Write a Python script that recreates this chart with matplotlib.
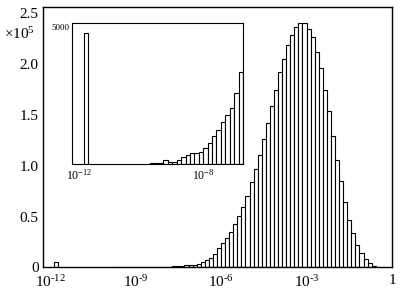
import numpy as np
import matplotlib.pyplot as plt

plt.rcParams['font.family'] = ['Liberation Serif', 'DejaVu Serif']
plt.rcParams['mathtext.fontset'] = 'custom'
plt.rcParams['mathtext.rm'] = 'Liberation Serif'
plt.rcParams['mathtext.it'] = 'Liberation Serif:italic'

# log-spaced bins, 7 per decade: bin k covers [10^(k/7), 10^((k+1)/7)]
spike_bin = -83
spike_count = 4790

first_bin = -68
counts = [
    40, 45, 50,                                   # -68 .. -66
    135, 85, 75, 160, 270, 330, 390, 390, 450,    # -65 .. -57
    575, 760, 1010, 1245, 1525, 1795, 2060, 2610, 3380,   # -56 .. -48
    4800, 6700, 9500, 13400,                      # -47 .. -44
    18700, 23600, 29200, 34500, 42700, 50900, 59800,      # -43 .. -37
    70600, 83700, 96600, 110700, 126000, 142500,          # -36 .. -31
    159000, 175000, 192000, 205000, 219000, 229000, 237000,   # -30 .. -24
    241000, 241000,                               # -23 .. -22 (peak)
    235000, 227000, 212000, 196000, 175000, 154000,       # -21 .. -16
    129000, 106000, 85000, 64000, 47000, 33500, 22000,    # -15 .. -9
    13800, 7900, 3900, 1600, 700,                 # -8 .. -4
]

k = np.concatenate([[spike_bin], first_bin + np.arange(len(counts))])
vals = np.concatenate([[spike_count], counts])
left = 10.0 ** (k / 7)
right = 10.0 ** ((k + 1) / 7)

main_ticks = [1e-12, 1e-9, 1e-6, 1e-3, 1]
main_labels = [r'$10^{\text{-}12}$', r'$10^{\text{-}9}$', r'$10^{\text{-}6}$',
               r'$10^{\text{-}3}$', '1']
y_ticks = [0, 0.5e5, 1.0e5, 1.5e5, 2.0e5, 2.5e5]
y_labels = ['0', '0.5', '1.0', '1.5', '2.0', '2.5']

fig = plt.figure(figsize=(4, 2.91), dpi=100)
ax = fig.add_axes([43 / 400, 1 - 267.3 / 291, 349 / 400, 260 / 291])
ax.bar(left, vals, width=right - left, align='edge',
       facecolor='white', edgecolor='black', linewidth=0.8)
ax.set_xscale('log')
ax.set_xlim(10 ** -12.25, 1)
ax.set_ylim(0, 2.56e5)
ax.set_xticks(main_ticks)
ax.set_xticklabels(main_labels)
ax.minorticks_off()
ax.set_yticks(y_ticks)
ax.set_yticklabels(y_labels)
ax.tick_params(length=0, labelsize=11)
ax.tick_params(axis='x', pad=5)
ax.tick_params(axis='y', pad=3)
for s in ax.spines.values():
    s.set_linewidth(1.0)
fig.text(4 / 400, 1 - 34 / 291, r'$\times10^5$', fontsize=11, va='center')

# inset zoomed on the small-value region
ins = fig.add_axes([72 / 400, 1 - 164 / 291, 171 / 400, 140.7 / 291])
ins.bar(left, vals, width=right - left, align='edge',
        facecolor='white', edgecolor='black', linewidth=0.8)
ins.set_xscale('log')
ins.set_xlim(10 ** -12.24, 10 ** -6.714)
ins.set_ylim(0, 5150)
ins.set_xticks([1e-12, 1e-8])
ins.set_xticklabels([r'$10^{-12}$', r'$10^{-8}$'])
ins.minorticks_off()
ins.set_yticks([5000])
ins.set_yticklabels(['5000'])
ins.tick_params(length=0)
ins.tick_params(axis='x', labelsize=8.5, pad=3)
ins.tick_params(axis='y', labelsize=6.5, pad=2)

fig.savefig('out.png', dpi=100)
